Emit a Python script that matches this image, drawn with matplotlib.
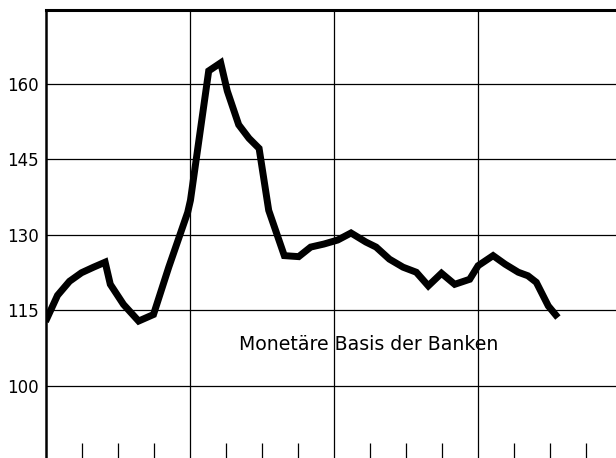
import matplotlib
matplotlib.use("Agg")
import matplotlib.pyplot as plt
from matplotlib.ticker import FixedLocator

# Data: month index from start (x) and index value (y)
months = [0.0, 1.0, 2.0, 3.0, 4.0, 4.97, 5.4, 6.5, 7.76, 9.0, 10.27, 11.85, 12.08,
          13.6, 14.6, 15.15, 16.1, 16.96, 17.8, 18.6, 19.9, 21.1, 22.1, 23.2,
          24.35, 25.46, 26.7, 27.55, 28.66, 29.8, 30.9, 31.9, 33.0, 34.1, 35.35,
          36.05, 37.3, 38.3, 39.4, 40.2, 40.9, 41.9, 42.7]
values = [112.8, 118.0, 120.8, 122.5, 123.6, 124.6, 120.2, 116.2, 112.9, 114.2, 123.6, 134.5, 136.9,
          162.6, 164.2, 158.6, 151.9, 149.2, 147.2, 134.9, 125.9, 125.7, 127.6, 128.2,
          129.0, 130.4, 128.6, 127.6, 125.2, 123.6, 122.6, 119.9, 122.4, 120.2, 121.2,
          123.9, 125.9, 124.2, 122.6, 121.9, 120.6, 115.9, 113.6]
y_ticks = [100, 115, 130, 145, 160]
year_lines = [12, 24, 36, 48]
quarter_ticks = [3, 6, 9, 15, 18, 21, 27, 30, 33, 39, 42, 45]
series_label = "Monetäre Basis der Banken"

W, H = 616, 458
fig = plt.figure(figsize=(W / 100, H / 100), dpi=100)
left_px, right_px, top_px, bottom_px = 45.5, 621.5, 10, 462
ax = fig.add_axes([left_px / W, 1 - bottom_px / H,
                   (right_px - left_px) / W, (bottom_px - top_px) / H])
ax.set_xlim(0, 48)
ax.set_ylim(84.9, 174.7)

for v in y_ticks:
    ax.axhline(v, color="black", lw=0.9, zorder=1)
for m in year_lines:
    ax.axvline(m, color="black", lw=0.9, zorder=1)

ax.plot(months, values, color="black", lw=5.0, solid_joinstyle="miter",
        solid_capstyle="butt", zorder=3)

ax.text(16.1, 107.15, series_label, fontsize=13.6, family="DejaVu Sans",
        va="baseline", ha="left", zorder=4)

ax.set_yticks(y_ticks)
ax.set_yticklabels([str(v) for v in y_ticks], fontsize=12, family="DejaVu Sans")
ax.tick_params(axis="y", length=0, pad=5)
ax.xaxis.set_major_locator(FixedLocator(quarter_ticks))
ax.set_xticklabels([])
ax.tick_params(axis="x", direction="in", length=13.7, width=0.9, color="black")

ax.spines["right"].set_visible(False)
ax.spines["top"].set_linewidth(2.2)
ax.spines["left"].set_linewidth(1.8)
ax.spines["bottom"].set_linewidth(1.5)

fig.savefig("out.png", dpi=100)
